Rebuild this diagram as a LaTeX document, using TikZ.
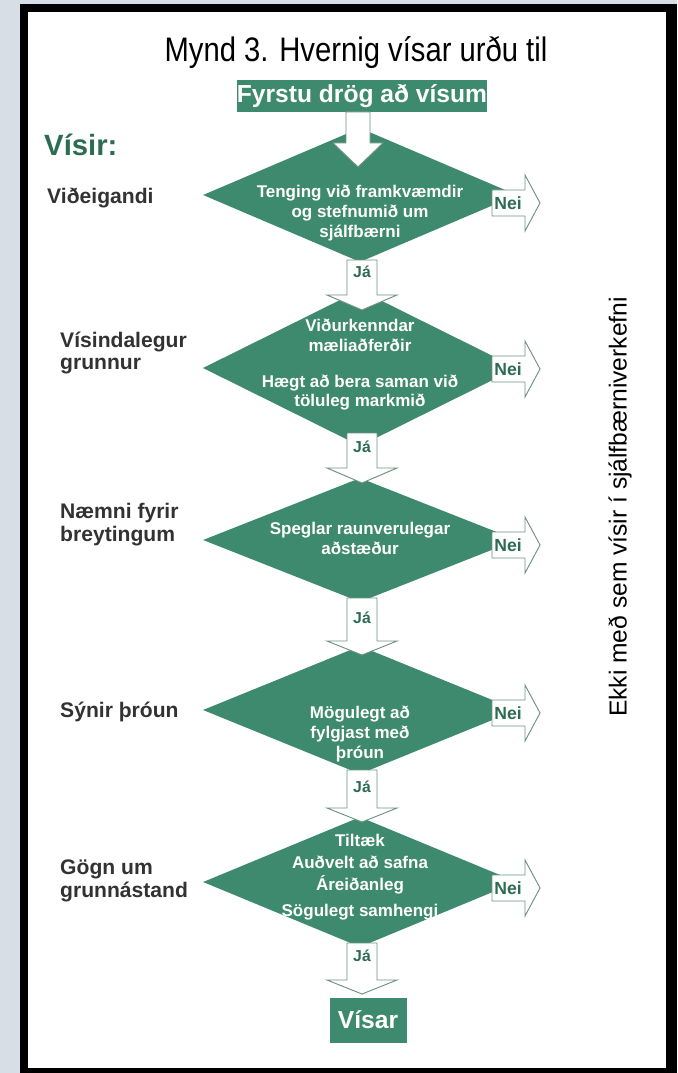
\documentclass[tikz,border=0pt]{standalone}
\usepackage{fontspec}
\setmainfont{Liberation Sans}
\newfontfamily\titlefont[FakeStretch=0.86]{Liberation Sans}
\usetikzlibrary{shapes.geometric}

\definecolor{boxgreen}{RGB}{62,138,110}
\definecolor{darkgreen}{RGB}{44,108,82}
\definecolor{edgegreen}{RGB}{112,145,128}
\definecolor{pagegray}{RGB}{216,222,230}
\definecolor{labelgray}{RGB}{50,50,50}

\begin{document}
\begin{tikzpicture}[x=0.03cm,y=-0.03cm,
  dia/.style={diamond,fill=boxgreen,inner sep=0pt,minimum width=314*0.03cm,minimum height=#1*0.03cm},
  diatext/.style={text=white,font=\bfseries\fontsize{14.5}{17}\selectfont,align=center},
  greenbox/.style={fill=boxgreen,text=white,inner sep=0pt,font=\bfseries\fontsize{21}{24}\selectfont},
  sidetext/.style={anchor=west,inner sep=0pt,text=labelgray,align=left,font=\bfseries\fontsize{18}{19.5}\selectfont},
  blockarrow/.style={fill=white,draw=edgegreen,line width=0.8pt},
  jatext/.style={text=darkgreen,font=\bfseries\fontsize{13.5}{14}\selectfont},
  neitext/.style={text=darkgreen,font=\bfseries\fontsize{15}{16}\selectfont}]

  % page and frame
  \fill[pagegray] (0,0) rectangle (677,1073);
  \fill[black] (20,4) rectangle (677,1073);
  \fill[white] (28,12) rectangle (666,1068);
  \useasboundingbox (0,0) rectangle (677,1073);

  % title and start box
  \node[anchor=base,font=\titlefont\fontsize{29}{32}\selectfont] (title) at (356,62) {Mynd 3. Hvernig vísar urðu til};
  \node[greenbox,minimum width=250*0.03cm,minimum height=32*0.03cm] (start) at (362,96) {Fyrstu drög að vísum};
  \node[anchor=west,inner sep=0pt,text=darkgreen,font=\bfseries\fontsize{25}{28}\selectfont] (visir) at (44,145) {Vísir:};

  % diamonds
  \node[dia=134] (d1) at (360,195) {};
  \node[dia=156] (d2) at (360,368) {};
  \node[dia=124] (d3) at (360,540) {};
  \node[dia=128] (d4) at (360,710) {};
  \node[dia=130] (d5) at (360,882) {};

  \node[diatext] (t1) at (360,213) {Tenging við framkvæmdir\\og stefnumið um\\sjálfbærni};
  \node[diatext] (t2) at (360,365) {Viðurkenndar\\mæliaðferðir\\[13pt]Hægt að bera saman við\\töluleg markmið};
  \node[diatext] (t3) at (360,538) {Speglar raunverulegar\\aðstæður};
  \node[diatext] (t4) at (360,734) {Mögulegt að\\fylgjast með\\þróun};
  \node[diatext] (t5) at (360,877) {Tiltæk\\[2pt]Auðvelt að safna\\[2pt]Áreiðanleg\\[5pt]Sögulegt samhengi};

  % criteria on the left
  \node[sidetext] (c1) at (47,198) {Viðeigandi};
  \node[sidetext] (c2) at (60,353) {Vísindalegur\\grunnur};
  \node[sidetext] (c3) at (60,525) {Næmni fyrir\\breytingum};
  \node[sidetext] (c4) at (60,712) {Sýnir þróun};
  \node[sidetext] (c5) at (60,881) {Gögn um\\grunnástand};

  % arrow from start box
  \coordinate (a0) at (358,112);
  \draw[blockarrow] (a0) ++(-12,0) -- ++(24,0) -- ++(0,31) -- ++(13,0) -- ++(-25,24) -- ++(-25,-24) -- ++(13,0) -- cycle;

  % yes arrows
  \coordinate (j1) at (362,260);
  \coordinate (j2) at (362,433);
  \coordinate (j3) at (362,598);
  \coordinate (j4) at (362,770);
  \coordinate (j5) at (362,943);
  \draw[blockarrow] (j1) ++(-15,0) -- ++(30,0) -- ++(0,35) -- ++(20,0) -- ++(-35,15) -- ++(-35,-15) -- ++(20,0) -- cycle;
  \draw[blockarrow] (j2) ++(-15,0) -- ++(30,0) -- ++(0,35) -- ++(20,0) -- ++(-35,15) -- ++(-35,-15) -- ++(20,0) -- cycle;
  \draw[blockarrow] (j3) ++(-15,0) -- ++(30,0) -- ++(0,43) -- ++(20,0) -- ++(-35,14) -- ++(-35,-14) -- ++(20,0) -- cycle;
  \draw[blockarrow] (j4) ++(-15,0) -- ++(30,0) -- ++(0,38) -- ++(20,0) -- ++(-35,14) -- ++(-35,-14) -- ++(20,0) -- cycle;
  \draw[blockarrow] (j5) ++(-15,0) -- ++(30,0) -- ++(0,37) -- ++(20,0) -- ++(-35,14) -- ++(-35,-14) -- ++(20,0) -- cycle;
  \node[jatext] (ja1) at (362,272) {Já};
  \node[jatext] (ja2) at (362,447) {Já};
  \node[jatext] (ja3) at (362,618) {Já};
  \node[jatext] (ja4) at (362,787) {Já};
  \node[jatext] (ja5) at (362,956) {Já};

  % no arrows
  \foreach \y [count=\i] in {203,369,545,713,888} {
    \coordinate (n\i) at (492,\y);
    \draw[blockarrow] (n\i) ++(0,-13) -- ++(33,0) -- ++(0,-15) -- ++(15,28) -- ++(-15,28) -- ++(0,-15) -- ++(-33,0) -- cycle;
    \node[neitext] (nei\i) at (508,\y) {Nei};
  }

  % end box
  \node[greenbox,minimum width=77*0.03cm,minimum height=45*0.03cm] (end) at (368,1020) {Vísar};

  % side note
  \node[rotate=90,font=\fontsize{21}{24}\selectfont] (ekki) at (620,507) {Ekki með sem vísir í sjálfbærniverkefni};
\end{tikzpicture}
\end{document}
